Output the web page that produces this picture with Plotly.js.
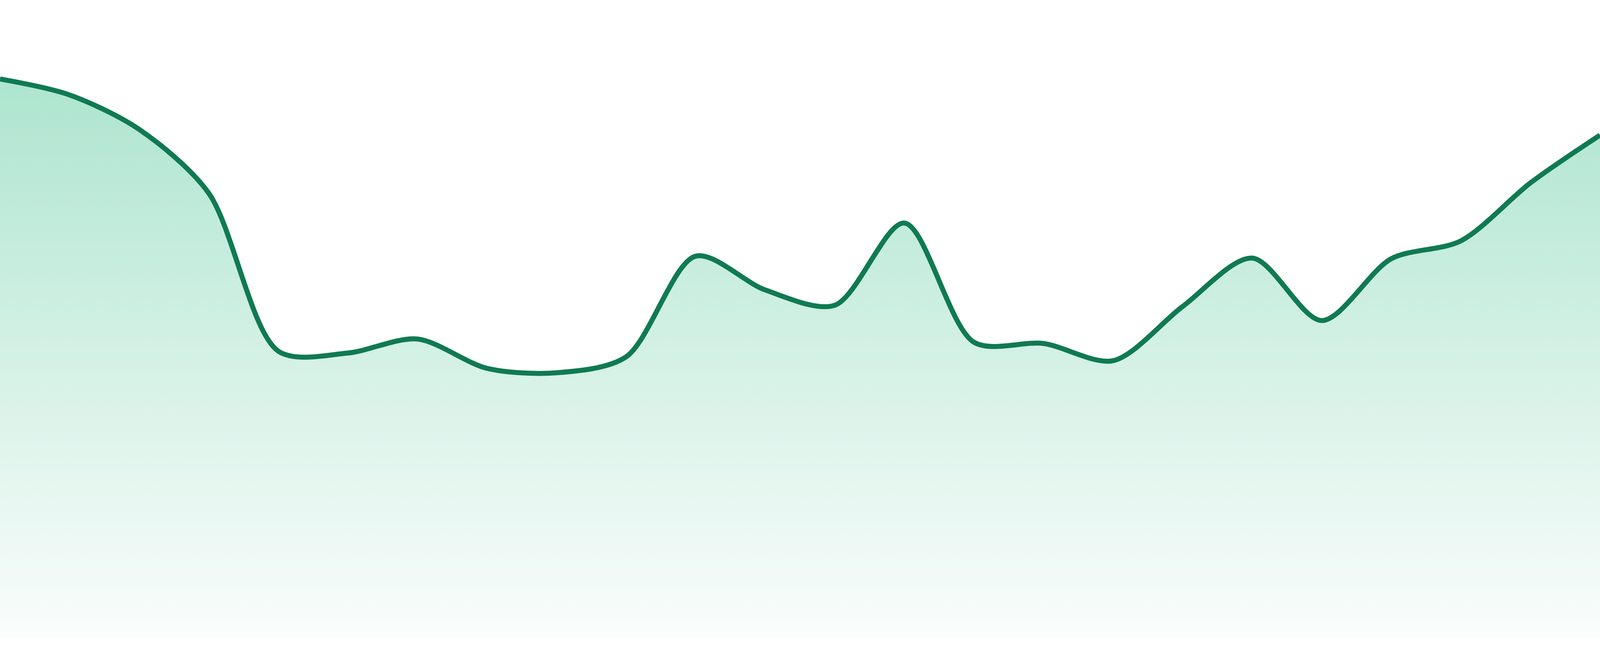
<!DOCTYPE html>
<html>
<head>
<meta charset="utf-8">
<script src="https://cdn.plot.ly/plotly-3.0.1.min.js"></script>
<style>
  html, body { margin: 0; padding: 0; background: #ffffff; overflow: hidden; }
  #chart { width: 100vw; height: 100vh; }
</style>
</head>
<body>
<div id="chart"></div>
<script>
// Sample positions (evenly spaced periods)
const periods = [0, 1, 2, 3, 4, 5, 6, 7, 8, 9, 10, 11, 12, 13, 14, 15, 16, 17, 18, 19, 20, 21, 22, 23];
// Series values (no axis labels shown; relative scale 0-100)
const values = [87.6, 85.1, 79.7, 69.7, 44.9, 44.6, 46.8, 42.2, 41.5, 44.0, 59.8, 54.5,
                52.1, 65.0, 46.3, 46.1, 43.4, 51.9, 59.5, 49.7, 59.4, 62.2, 71.3, 78.8];

const lineColor = 'rgb(16,122,82)';

const W = window.innerWidth || 4800;
const H = window.innerHeight || 1680;
const k = W / 4800;

const trace = {
  x: periods,
  y: values,
  type: 'scatter',
  mode: 'lines',
  line: { color: lineColor, width: 15 * k, shape: 'spline', smoothing: 0.85 },
  fill: 'tozeroy',
  fillgradient: {
    type: 'vertical',
    start: 0,
    stop: Math.max(...values),
    colorscale: [[0, 'rgb(250,253,252)'], [1, 'rgb(174,229,207)']]
  },
  hoverinfo: 'skip'
};

const layout = {
  width: W,
  height: H,
  margin: { l: 0, r: 0, t: 0, b: Math.round(48 * H / 1680), pad: 0 },
  paper_bgcolor: '#ffffff',
  plot_bgcolor: '#ffffff',
  showlegend: false,
  xaxis: { range: [0, 23], visible: false, showgrid: false, zeroline: false, fixedrange: true },
  yaxis: { range: [0, 100], visible: false, showgrid: false, zeroline: false, fixedrange: true }
};

Plotly.newPlot('chart', [trace], layout, { staticPlot: true, displayModeBar: false });
</script>
</body>
</html>
